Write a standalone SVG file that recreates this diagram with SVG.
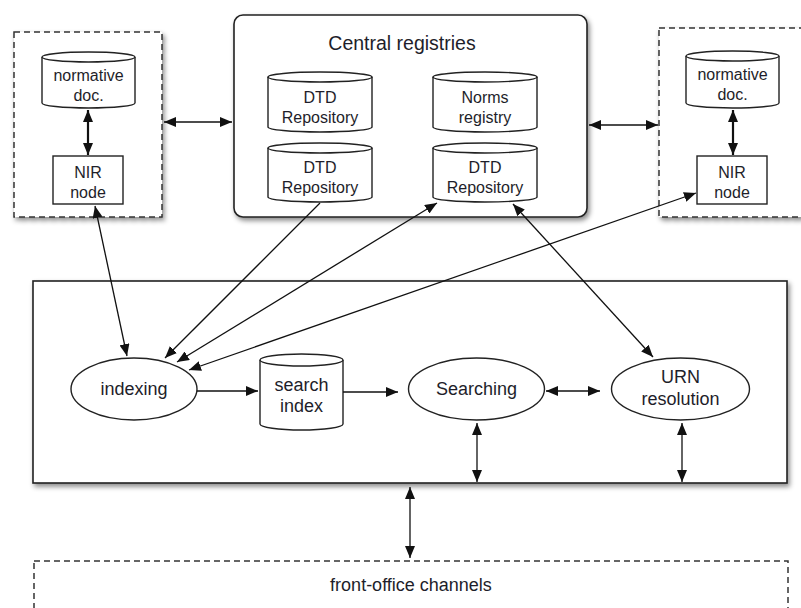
<svg xmlns="http://www.w3.org/2000/svg" width="801" height="608" viewBox="0 0 801 608">
  <style>
    text { font-family: "Liberation Sans", Arial, sans-serif; fill: #1e1e2a; text-anchor: middle; }
    .t16 { font-size: 16px; }
    .t18 { font-size: 18px; }
    .t19 { font-size: 19.5px; }
    .box { fill: #ffffff; stroke: #222; stroke-width: 1.6; }
    .dash { fill: #ffffff; stroke: #333; stroke-width: 1.5; stroke-dasharray: 6 4; }
    .shape { fill: #ffffff; stroke: #222; stroke-width: 1.4; }
    .conn { fill: none; stroke: #111; stroke-width: 1.3; }
    .thick { stroke-width: 2.2; }
  </style>
  <defs>
    <filter id="shadow" x="-10%" y="-10%" width="125%" height="130%">
      <feDropShadow dx="2" dy="3" stdDeviation="2.5" flood-color="#000" flood-opacity="0.45"/>
    </filter>
    <marker id="ah" viewBox="0 0 12 10" refX="12" refY="5" markerWidth="12" markerHeight="10" markerUnits="userSpaceOnUse" orient="auto-start-reverse">
      <path d="M0,0 L12,5 L0,10 z" fill="#111"/>
    </marker>
  </defs>

  <rect width="801" height="608" fill="#ffffff"/>

  <!-- containers -->
  <g id="nir-left">
    <rect class="dash" x="14" y="32" width="148" height="185" filter="url(#shadow)"/>
  </g>
  <g id="central-registries">
    <rect class="box" x="234" y="15" width="353" height="202" rx="9" filter="url(#shadow)"/>
    <text class="t19" x="402" y="50">Central registries</text>
  </g>
  <g id="nir-right">
    <rect class="dash" x="659" y="28" width="170" height="189" filter="url(#shadow)"/>
  </g>
  <g id="portal">
    <rect class="box" x="33" y="281" width="754" height="202" filter="url(#shadow)"/>
  </g>
  <g id="front-office">
    <rect class="dash" x="34" y="561" width="754" height="70"/>
    <text class="t18" x="411" y="591">front-office channels</text>
  </g>

  <!-- left NIR contents -->
  <g id="doc-left">
    <path class="shape" d="M42,57 L42,103 A46.5,5 0 0 0 135,103 L135,57"/>
    <ellipse class="shape" cx="88.5" cy="57" rx="46.5" ry="5"/>
    <text class="t16" x="88.5" y="81">normative</text>
    <text class="t16" x="88.5" y="101">doc.</text>
  </g>
  <g id="nir-node-left">
    <rect class="shape" x="53" y="156" width="70" height="48"/>
    <text class="t16" x="88" y="178">NIR</text>
    <text class="t16" x="88" y="198">node</text>
  </g>

  <!-- right NIR contents -->
  <g id="doc-right">
    <path class="shape" d="M686,56 L686,103 A46.5,5 0 0 0 779,103 L779,56"/>
    <ellipse class="shape" cx="732.5" cy="56" rx="46.5" ry="5"/>
    <text class="t16" x="732.5" y="80">normative</text>
    <text class="t16" x="732.5" y="100">doc.</text>
  </g>
  <g id="nir-node-right">
    <rect class="shape" x="697" y="156" width="70" height="48"/>
    <text class="t16" x="732" y="178">NIR</text>
    <text class="t16" x="732" y="198">node</text>
  </g>

  <!-- central registry stores -->
  <g id="dtd-repo-1">
    <path class="shape" d="M268,77 L268,127 A52,5 0 0 0 372,127 L372,77"/>
    <ellipse class="shape" cx="320" cy="77" rx="52" ry="5"/>
    <text class="t16" x="320" y="103">DTD</text>
    <text class="t16" x="320" y="123">Repository</text>
  </g>
  <g id="norms-registry">
    <path class="shape" d="M433,77 L433,127 A52,5 0 0 0 537,127 L537,77"/>
    <ellipse class="shape" cx="485" cy="77" rx="52" ry="5"/>
    <text class="t16" x="485" y="103">Norms</text>
    <text class="t16" x="485" y="123">registry</text>
  </g>
  <g id="dtd-repo-2">
    <path class="shape" d="M268,148 L268,197 A52,5 0 0 0 372,197 L372,148"/>
    <ellipse class="shape" cx="320" cy="148" rx="52" ry="5"/>
    <text class="t16" x="320" y="173">DTD</text>
    <text class="t16" x="320" y="193">Repository</text>
  </g>
  <g id="dtd-repo-3">
    <path class="shape" d="M433,148 L433,197 A52,5 0 0 0 537,197 L537,148"/>
    <ellipse class="shape" cx="485" cy="148" rx="52" ry="5"/>
    <text class="t16" x="485" y="173">DTD</text>
    <text class="t16" x="485" y="193">Repository</text>
  </g>

  <!-- portal services -->
  <g id="indexing">
    <ellipse class="shape" cx="134" cy="389" rx="63" ry="31"/>
    <text class="t18" x="134" y="395">indexing</text>
  </g>
  <g id="search-index">
    <path class="shape" d="M260,360 L260,424 A41.5,6 0 0 0 343,424 L343,360"/>
    <ellipse class="shape" cx="301.5" cy="360" rx="41.5" ry="6"/>
    <text class="t18" x="301.5" y="391">search</text>
    <text class="t18" x="301.5" y="412">index</text>
  </g>
  <g id="searching">
    <ellipse class="shape" cx="476.5" cy="389" rx="68" ry="31"/>
    <text class="t18" x="476.5" y="395">Searching</text>
  </g>
  <g id="urn-resolution">
    <ellipse class="shape" cx="680.5" cy="389" rx="69" ry="31"/>
    <text class="t18" x="680.5" y="383">URN</text>
    <text class="t18" x="680.5" y="405">resolution</text>
  </g>

  <!-- connectors -->
  <g id="connectors">
    <line class="conn thick" x1="88" y1="110" x2="88" y2="155" marker-start="url(#ah)" marker-end="url(#ah)"/>
    <line class="conn thick" x1="733" y1="110" x2="733" y2="155" marker-start="url(#ah)" marker-end="url(#ah)"/>
    <line class="conn" x1="164" y1="122" x2="232" y2="122" marker-start="url(#ah)" marker-end="url(#ah)"/>
    <line class="conn" x1="589" y1="125" x2="658" y2="125" marker-start="url(#ah)" marker-end="url(#ah)"/>
    <line class="conn" x1="95" y1="206" x2="127" y2="356" marker-start="url(#ah)" marker-end="url(#ah)"/>
    <line class="conn" x1="320" y1="203" x2="165" y2="358" marker-end="url(#ah)"/>
    <line class="conn" x1="437" y1="203" x2="177" y2="362" marker-start="url(#ah)" marker-end="url(#ah)"/>
    <line class="conn" x1="696" y1="193" x2="189" y2="370" marker-start="url(#ah)" marker-end="url(#ah)"/>
    <line class="conn" x1="513" y1="204" x2="653" y2="357" marker-start="url(#ah)" marker-end="url(#ah)"/>
    <line class="conn" x1="197" y1="391" x2="258" y2="391" marker-end="url(#ah)"/>
    <line class="conn" x1="343" y1="392" x2="398" y2="392" marker-end="url(#ah)"/>
    <line class="conn" x1="546" y1="391" x2="600" y2="391" marker-start="url(#ah)" marker-end="url(#ah)"/>
    <line class="conn" x1="477" y1="423" x2="477" y2="482" marker-start="url(#ah)" marker-end="url(#ah)"/>
    <line class="conn" x1="682" y1="423" x2="682" y2="482" marker-start="url(#ah)" marker-end="url(#ah)"/>
    <line class="conn" x1="410" y1="487" x2="410" y2="558" marker-start="url(#ah)" marker-end="url(#ah)"/>
  </g>
</svg>
